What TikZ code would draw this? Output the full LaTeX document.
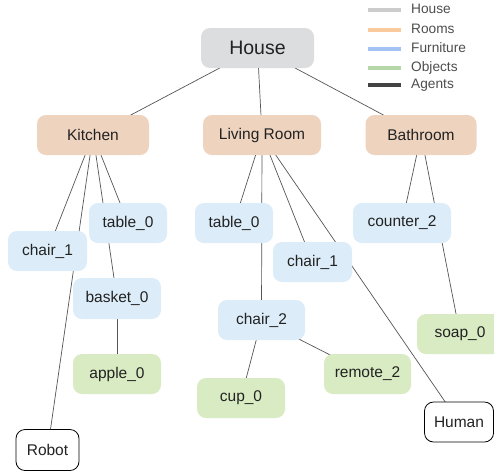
\documentclass[tikz,border=0pt]{standalone}
\usepackage{fontspec}
\setmainfont{Liberation Sans}
\usetikzlibrary{backgrounds}
\definecolor{housefill}{HTML}{DCDDDF}
\definecolor{roomfill}{HTML}{EED3BF}
\definecolor{furnfill}{HTML}{DCEDF9}
\definecolor{objfill}{HTML}{D9EBC2}
\definecolor{edgecol}{HTML}{555555}
\definecolor{txtcol}{HTML}{222222}
\definecolor{lghouse}{HTML}{CCCCCC}
\definecolor{lgroom}{HTML}{F9CB9C}
\definecolor{lgfurn}{HTML}{A4C2F4}
\definecolor{lgobj}{HTML}{B6D7A8}
\definecolor{lgagent}{HTML}{434343}
\tikzset{
  box/.style={rectangle, rounded corners=9pt, inner sep=0pt, minimum height=40pt, text=txtcol, font=\fontsize{15.5}{18}\selectfont},
  housebox/.style={box, fill=housefill, minimum width=113pt, font=\fontsize{19.5}{22}\selectfont},
  roombox/.style={box, fill=roomfill},
  furnbox/.style={box, fill=furnfill},
  objbox/.style={box, fill=objfill},
  agentbox/.style={box, fill=white, draw=black, line width=0.8pt},
  edge/.style={draw=edgecol, line width=0.7pt},
  lgline/.style={line width=4pt},
  lgtext/.style={anchor=west, inner sep=0pt, text=txtcol!80!white, font=\fontsize{13.7}{16}\selectfont}
}
\begin{document}
\begin{tikzpicture}[x=1pt,y=-1pt]
\clip (0,0) rectangle (494,472);
% nodes
\node[housebox] (house) at (257.5,48) {House};
\node[roombox, minimum width=112pt] (kitchen) at (93,135) {Kitchen};
\node[roombox, minimum width=118pt] (living) at (262,135) {Living Room};
\node[roombox, minimum width=111pt] (bath) at (421,135) {Bathroom};
\node[furnbox, minimum width=79pt] (kchair) at (47.5,251) {chair\_1};
\node[furnbox, minimum width=78pt] (ktable) at (128,223) {table\_0};
\node[furnbox, minimum width=88pt, minimum height=41pt] (basket) at (117,298.5) {basket\_0};
\node[objbox, minimum width=88pt] (apple) at (117,374) {apple\_0};
\node[agentbox, minimum width=63pt, minimum height=41pt] (robot) at (47.5,450) {Robot};
\node[furnbox, minimum width=78pt] (ltable) at (234,223) {table\_0};
\node[furnbox, minimum width=79pt] (lchair) at (312.5,262) {chair\_1};
\node[furnbox, minimum width=87pt] (chairtwo) at (261.5,320) {chair\_2};
\node[objbox, minimum width=88pt] (cup) at (241,398) {cup\_0};
\node[objbox, minimum width=87pt] (remote) at (367.5,374) {remote\_2};
\node[furnbox, minimum width=98pt] (counter) at (402,223) {counter\_2};
\node[objbox, minimum width=86pt] (soap) at (460,334) {soap\_0};
\node[agentbox, minimum width=69pt] (human) at (459,422) {Human};
% edges
\begin{pgfonlayer}{background}
\fill[white] (0,0) rectangle (494,472);
\draw[edge] (house.center) -- (kitchen.center);
\draw[edge] (house.center) -- (living.center);
\draw[edge] (house.center) -- (bath.center);
\draw[edge] (kitchen.center) -- (kchair.center);
\draw[edge] (kitchen.center) -- (robot.center);
\draw[edge] (kitchen.center) -- (basket.center);
\draw[edge] (kitchen.center) -- (ktable.center);
\draw[edge] (basket.center) -- (apple.center);
\draw[edge] (living.center) -- (ltable.center);
\draw[edge] (living.center) -- (chairtwo.center);
\draw[edge] (living.center) -- (lchair.center);
\draw[edge] (living.center) -- (human.center);
\draw[edge] (chairtwo.center) -- (cup.center);
\draw[edge] (chairtwo.center) -- (remote.center);
\draw[edge] (bath.center) -- (counter.center);
\draw[edge] (bath.center) -- (soap.center);
\end{pgfonlayer}
% legend
\coordinate (l1a) at (368,9.5); \coordinate (l1b) at (401,9.5);
\coordinate (l2a) at (368,29.5); \coordinate (l2b) at (401,29.5);
\coordinate (l3a) at (368,48.5); \coordinate (l3b) at (401,48.5);
\coordinate (l4a) at (368,68); \coordinate (l4b) at (401,68);
\coordinate (l5a) at (368,84.5); \coordinate (l5b) at (401,84.5);
\draw[lgline, lghouse] (l1a) -- (l1b);
\draw[lgline, lgroom] (l2a) -- (l2b);
\draw[lgline, lgfurn] (l3a) -- (l3b);
\draw[lgline, lgobj] (l4a) -- (l4b);
\draw[lgline, lgagent] (l5a) -- (l5b);
\node[lgtext] (t1) at (411,9) {House};
\node[lgtext] (t2) at (411,29) {Rooms};
\node[lgtext] (t3) at (411,48) {Furniture};
\node[lgtext] (t4) at (411,68) {Objects};
\node[lgtext] (t5) at (411,85) {Agents};
\end{tikzpicture}
\end{document}
